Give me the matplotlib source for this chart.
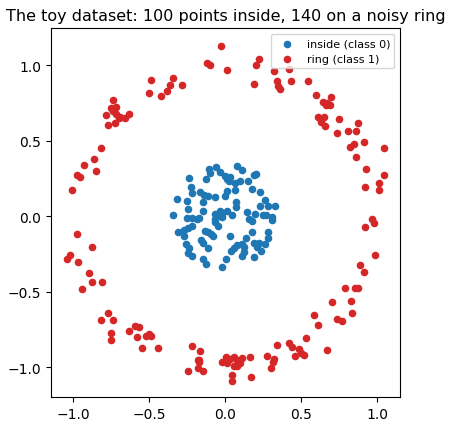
import numpy as np
import matplotlib
matplotlib.use("Agg")
import matplotlib.pyplot as plt

inside_x = [0.075, 0.114, -0.057, -0.033, -0.103, -0.099, -0.125, -0.004, 0.015, 0.033,
            0.024, 0.066, 0.101, 0.149, 0.193, 0.206, -0.235, -0.226, -0.219, -0.164,
            -0.136, -0.114, -0.064, -0.004, 0.009, 0.064, 0.180, 0.230, -0.314, -0.252,
            -0.147, 0.072, 0.072, 0.046, 0.265, 0.230, 0.279, 0.331, -0.246, -0.149,
            -0.340, -0.252, -0.215, -0.186, -0.169, -0.070, -0.035, -0.020, -0.037, 0.011,
            -0.064, -0.070, -0.050, -0.022, 0.147, 0.154, 0.175, 0.197, 0.246, 0.270,
            0.311, 0.309, -0.217, -0.246, -0.274, -0.307, -0.270, -0.134, -0.114, -0.092,
            -0.077, 0.175, 0.285, 0.279, 0.138, 0.114, 0.077, 0.059, 0.037, 0.035,
            -0.160, -0.143, -0.257, -0.235, -0.243, -0.215, -0.114, 0.191, 0.226, 0.208,
            0.263, 0.239, 0.189, 0.123, 0.114, -0.147, -0.125, 0.007, -0.018, 0.121]
inside_y = [0.333, 0.309, 0.327, 0.296, 0.313, 0.285, 0.247, 0.269, 0.247, 0.260,
            0.232, 0.219, 0.234, 0.232, 0.272, 0.280, 0.252, 0.196, 0.157, 0.159,
            0.143, 0.137, 0.126, 0.137, 0.168, 0.172, 0.179, 0.159, 0.113, 0.102,
            0.097, 0.097, 0.062, 0.009, 0.108, 0.066, 0.066, 0.066, 0.049, 0.033,
            0.009, -0.013, -0.013, -0.018, -0.013, 0.015, 0.038, 0.024, 0.004, 0.035,
            -0.018, -0.040, -0.062, -0.007, 0.031, -0.018, -0.029, 0.015, 0.009, 0.009,
            -0.007, -0.022, -0.066, -0.079, -0.091, -0.106, -0.132, -0.095, -0.106, -0.117,
            -0.132, -0.102, -0.102, -0.146, -0.146, -0.181, -0.190, -0.208, -0.227, -0.128,
            -0.155, -0.177, -0.183, -0.212, -0.245, -0.260, -0.210, -0.179, -0.177, -0.205,
            -0.183, -0.232, -0.272, -0.205, -0.260, -0.283, -0.316, -0.283, -0.338, -0.234]

ring_x = [-0.026, -0.120, -0.099, 0.015, -0.491, -0.340, -0.366, -0.382, -0.281, -0.504,
          -0.419, -0.735, -0.750, -0.719, -0.781, -0.719, -0.691, -0.660, -0.636, -0.722,
          -0.768, -0.820, -0.860, -0.932, -0.853, -0.972, -0.952, -1.011,
          0.226, 0.204, 0.193, 0.324, 0.423, 0.340, 0.351, 0.364, 0.436, 0.548,
          0.597, 0.643, 0.664, 0.699, 0.691, 0.610, 0.649, 0.632, 0.656, 0.750,
          0.739, 0.811, 0.864, 0.877, 0.916, 0.847, 0.822, 0.864, 1.046, 0.928,
          1.048, 1.015, 0.923, 1.015,
          0.965, 0.982, 0.923, 0.989, 0.890, 0.916, 0.791, 0.855, 0.875, 0.706,
          0.831, 0.838, 0.588, 0.614, 0.737, 0.772, 0.533, 0.344, 0.423, 0.441,
          0.485, 0.500, 0.522, 0.458, 0.673, 0.278, 0.322, 0.314, 0.305, 0.162,
          0.173, 0.114, 0.099, 0.059, 0.005, 0.055, 0.077, 0.011, -0.022, 0.048,
          0.048,
          -0.978, -0.873, -1.041, -1.022, -0.969, -0.893, -0.873, -0.809, -0.945, -0.774,
          -0.820, -0.735, -0.754, -0.748, -0.636, -0.590, -0.568, -0.577, -0.522, -0.504,
          -0.485, -0.544, -0.445, -0.215, -0.163, -0.176, -0.171, -0.178, -0.149, -0.245,
          -0.700, -0.740, 0.030, 0.080, 0.670, 0.630, -0.170]
ring_y = [1.132, 1.013, 1.000, 0.967, 0.901, 0.916, 0.868, 0.832, 0.868, 0.815,
          0.795, 0.768, 0.717, 0.722, 0.671, 0.677, 0.660, 0.649, 0.677, 0.618,
          0.605, 0.450, 0.377, 0.338, 0.300, 0.272, 0.258, 0.174,
          1.042, 1.002, 0.874, 0.962, 0.978, 0.894, 0.865, 0.843, 0.894, 0.894,
          0.803, 0.757, 0.739, 0.790, 0.739, 0.656, 0.656, 0.623, 0.596, 0.646,
          0.552, 0.565, 0.563, 0.616, 0.490, 0.479, 0.461, 0.391, 0.450, 0.311,
          0.274, 0.219, 0.192, 0.176,
          -0.018, -0.044, -0.073, -0.258, -0.325, -0.371, -0.475, -0.475, -0.475, -0.570,
          -0.563, -0.642, -0.656, -0.722, -0.682, -0.695, -0.804, -0.854, -0.839, -0.868,
          -0.881, -0.903, -0.921, -0.927, -0.887, -0.927, -0.947, -0.967, -1.007, -0.934,
          -1.066, -0.940, -0.974, -0.934, -0.934, -0.993, -0.989, -0.974, -0.967, -1.053,
          -1.089,
          -0.119, -0.205, -0.285, -0.258, -0.305, -0.377, -0.437, -0.437, -0.481, -0.642,
          -0.689, -0.689, -0.773, -0.819, -0.762, -0.726, -0.735, -0.801, -0.793, -0.781,
          -0.795, -0.874, -0.874, -0.861, -0.894, -0.950, -0.963, -1.005, -1.026, -1.026,
          0.655, 0.700, -0.945, -0.950, 0.750, 0.640, -0.955]

fig = plt.figure(figsize=(4.5, 4.31), dpi=100)
ax = fig.add_axes([0.113, 0.0766, 0.776, 0.855])
ax.scatter(inside_x, inside_y, s=20, color="tab:blue", label="inside (class 0)")
ax.scatter(ring_x, ring_y, s=20, color="tab:red", label="ring (class 1)")
ax.set_xlim(-1.147, 1.151)
ax.set_ylim(-1.197, 1.245)
ax.set_xticks([-1.0, -0.5, 0.0, 0.5, 1.0])
ax.set_yticks([-1.0, -0.5, 0.0, 0.5, 1.0])
ax.set_title("The toy dataset: 100 points inside, 140 on a noisy ring", fontsize=11.5)
ax.legend(loc="upper right", fontsize=8)
fig.savefig("out.png", dpi=100)
